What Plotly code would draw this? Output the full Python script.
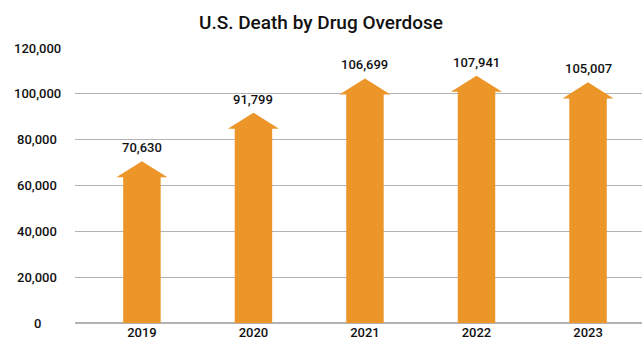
import plotly.graph_objects as go

years = ["2019", "2020", "2021", "2022", "2023"]
deaths = [70630, 91799, 106699, 107941, 105007]
y_ticks = [0, 20000, 40000, 60000, 80000, 100000, 120000]
y_tick_labels = ["0", "20,000", "40,000", "60,000", "80,000", "100,000", "120,000"]

ORANGE = "#EC9528"
FONT = "Roboto, Liberation Sans, Arial, sans-serif"
TXT = "#111111"

shaft_half = 0.168   # category units
head_half = 0.229
head_h = 7000        # data units

xs, ys = [], []
for i, v in enumerate(deaths):
    b = v - head_h
    xs += [i - shaft_half, i - shaft_half, i - head_half, i, i + head_half,
           i + shaft_half, i + shaft_half, i - shaft_half, None]
    ys += [0, b, b, v, b, b, 0, 0, None]

fig = go.Figure()
fig.add_trace(go.Scatter(x=xs, y=ys, mode="lines", fill="toself",
                         fillcolor=ORANGE, line=dict(width=0, color=ORANGE),
                         hoverinfo="skip", showlegend=False))

annotations = []
for i, v in enumerate(deaths):
    annotations.append(dict(x=i, y=v, xref="x", yref="y", text=f"{v:,}",
                            showarrow=False, yanchor="bottom", yshift=4,
                            font=dict(family=FONT, size=13, color=TXT, weight=500)))
for tv, tl in zip(y_ticks, y_tick_labels):
    annotations.append(dict(x=-0.067, y=tv, xref="paper", yref="y", text=tl,
                            showarrow=False, xanchor="center", yanchor="middle",
                            font=dict(family=FONT, size=13, color=TXT, weight=500)))

fig.update_layout(
    width=642, height=348,
    margin=dict(l=75, r=0, t=48, b=25),
    paper_bgcolor="white", plot_bgcolor="white",
    title=dict(text="U.S. Death by Drug Overdose", x=0.5, xanchor="center",
               y=1 - 22 / 348, yanchor="middle", xref="container", yref="container",
               font=dict(family=FONT, size=19, color=TXT, weight=500)),
    xaxis=dict(range=[-0.6, 4.484], tickmode="array",
               tickvals=list(range(len(years))), ticktext=years,
               showgrid=False, zeroline=False, showline=False, ticks="",
               tickfont=dict(family=FONT, size=13, color=TXT, weight=500),
               fixedrange=True),
    yaxis=dict(range=[0, 120000], tickmode="array", tickvals=y_ticks,
               showticklabels=False, showgrid=True, gridcolor="#b3b3b3",
               gridwidth=1.2, zeroline=True, zerolinecolor="#b3b3b3",
               zerolinewidth=1.5, showline=False, ticks="", fixedrange=True),
    annotations=annotations,
    showlegend=False,
)

fig.write_html("out.html")
